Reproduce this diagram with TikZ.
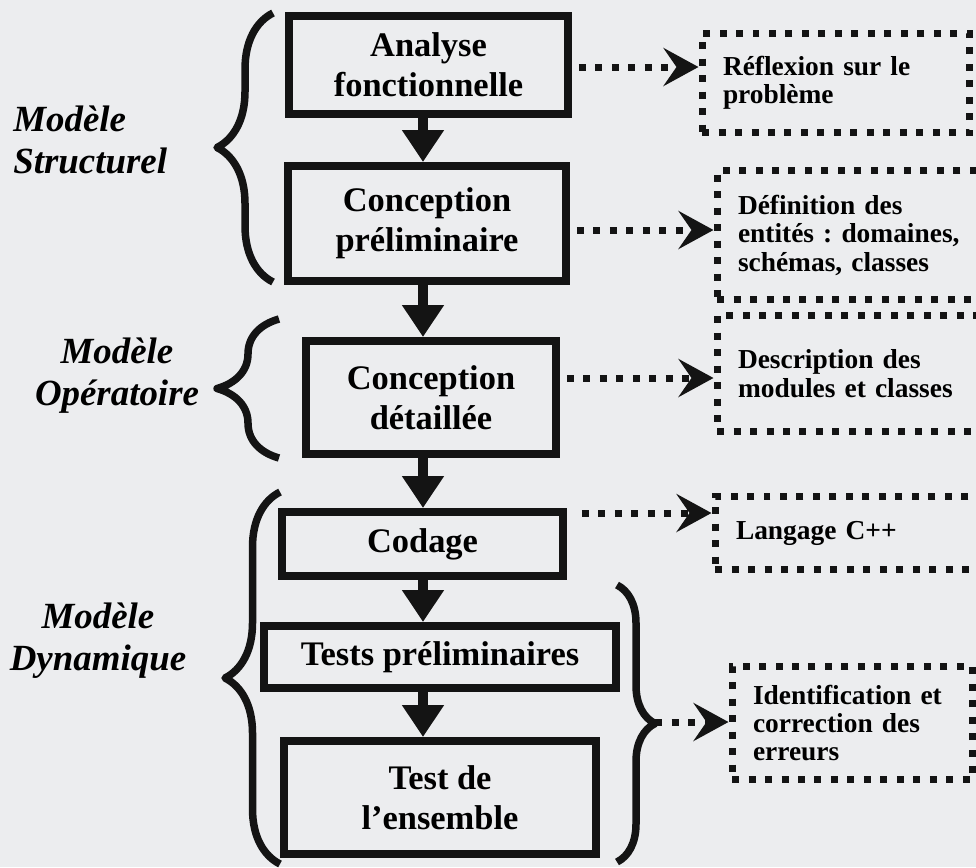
\documentclass[tikz,border=0pt]{standalone}
\usepackage{fontspec}
\setmainfont{Liberation Serif}
\usetikzlibrary{arrows.meta,decorations.pathreplacing}
\frenchspacing

\definecolor{paper}{RGB}{236,237,239}
\definecolor{ink}{RGB}{20,20,20}

\begin{document}
\begin{tikzpicture}[
    x=0.02cm, y=-0.02cm,
    stage/.style={draw=ink, line width=0.16cm, inner sep=0pt, align=center, font=\fontsize{19.6}{22.8}\selectfont\bfseries},
    note/.style={draw=ink, line width=0.14cm, dash pattern=on 0.14cm off 0.19cm, anchor=west, inner xsep=0.42cm, align=left, font=\fontsize{15.6}{16.2}\selectfont\bfseries},
    model/.style={inner sep=0pt, font=\fontsize{21}{23.8}\selectfont\bfseries\itshape},
    flow/.style={draw=ink, line width=0.19cm, -{Triangle[length=0.64cm, width=0.8cm]}},
    dotflow/.style={draw=ink, line width=0.14cm, dash pattern=on 0.14cm off 0.19cm, -{Stealth[length=0.7cm, width=0.76cm, inset=0.26cm]}},
    grp/.style={draw=ink, line width=0.15cm, line join=round, decorate, decoration={brace, amplitude=#1}}
  ]
  \fill[paper] (0,0) rectangle (976,867);
  \useasboundingbox (0,0) rectangle (976,867);

  % stages
  \node[stage, minimum width=5.58cm, minimum height=1.96cm] (ana) at (428.5,65) {Analyse\\fonctionnelle};
  \node[stage, minimum width=5.56cm, minimum height=2.3cm] (cpre) at (427,223.5) {Conception\\préliminaire};
  \node[stage, minimum width=5cm, minimum height=2.26cm] (cdet) at (431,397.5) {Conception\\détaillée};
  \node[stage, minimum width=5.62cm, minimum height=1.28cm] (cod) at (422.5,544) {Codage};
  \node[stage, minimum width=7.04cm, minimum height=1.24cm] (tpre) at (440,657) {Tests préliminaires};
  \node[stage, minimum width=6.24cm, minimum height=2.26cm] (tens) at (440,797.5) {Test de\\l'ensemble};

  % notes
  \node[note, text width=4.52cm, minimum height=1.98cm] (refl) at (698.5,83) {Réflexion sur le\\problème};
  \node[note, text width=4.76cm, minimum height=2.58cm] (defi) at (713.5,235) {Définition des\\entités : domaines,\\schémas, classes};
  \node[note, text width=4.76cm, minimum height=2.32cm] (desc) at (713.5,373.5) {Description des\\modules et classes};
  \node[note, text width=4.76cm, minimum height=1.46cm] (lang) at (711.5,533) {Langage C++};
  \node[note, text width=3.98cm, minimum height=2.26cm] (ident) at (728.5,723) {Identification et\\correction des\\erreurs};

  % models
  \node[model, anchor=west, align=left] (mstruct) at (13,140) {Modèle\\Structurel};
  \node[model, align=center] (mop) at (117,376) {Modèle\\Opératoire};
  \node[model, align=center] (mdyn) at (98,641) {Modèle\\Dynamique};

  % braces
  \draw[grp=1.12cm] (273,282) -- (273,13);
  \draw[grp=1.24cm] (279,458) -- (279,319);
  \draw[grp=1.1cm] (280,864) -- (280,492);
  \draw[grp=0.76cm] (617,585) -- (617,862);
  \coordinate (btip) at (655,722);

  % flow
  \coordinate (axis) at (423,0);
  \foreach \a/\b in {ana/cpre, cpre/cdet, cdet/cod, cod/tpre, tpre/tens}
    \draw[flow] (\a.south -| axis) -- (\b.north -| axis);

  \foreach \s/\t/\dy/\sh in {ana/refl/0.32cm/0.14cm, cpre/defi/0.1cm/0.14cm, cdet/desc/-0.09cm/0.14cm, cod/lang/0.4cm/0.3cm}
    \draw[dotflow, shorten <=\sh] ([yshift=\dy]\t.west -| \s.east) -- ([yshift=\dy]\t.west);
  \draw[dotflow] (btip) -- (ident.west |- btip);
\end{tikzpicture}
\end{document}
